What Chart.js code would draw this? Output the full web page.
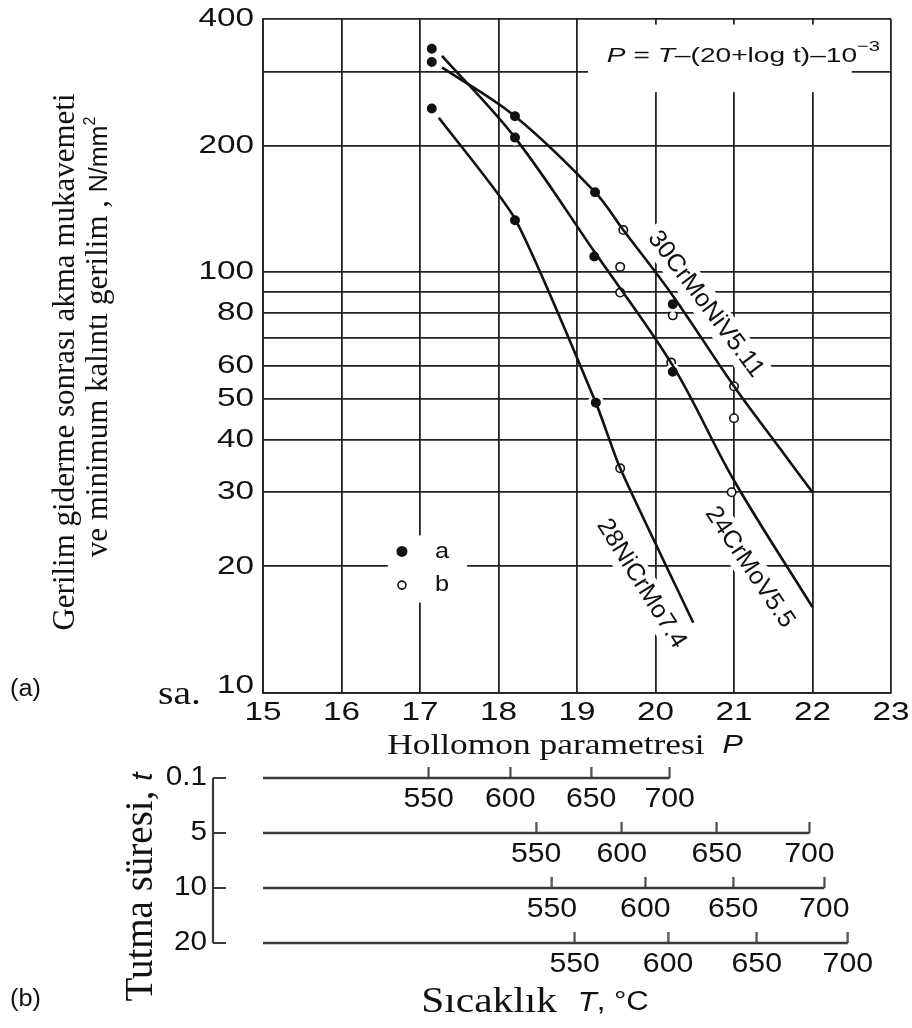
<!DOCTYPE html>
<html>
<head>
<meta charset="utf-8">
<script src="https://cdn.jsdelivr.net/npm/chart.js@4.4.1/dist/chart.umd.min.js"></script>
<style>
  body { margin: 0; background: #fff; }
  #page { position: relative; width: 912px; height: 1028px; }
  .box { position: absolute; left: 0; width: 912px; }
</style>
</head>
<body>
<div id="page">
  <div class="box" style="top:0;height:770px"><canvas id="chart-a"></canvas></div>
  <div class="box" style="top:740px;height:288px"><canvas id="chart-b"></canvas></div>
</div>
<script>
// (a) Hollomon parametresi - gerilim, log eksen
var pTicks = [15, 16, 17, 18, 19, 20, 21, 22, 23];
var stressLabels = [10, 20, 30, 40, 50, 60, 80, 100, 200, 400];
var stressGrid = [10, 20, 30, 40, 50, 60, 70, 80, 90, 100, 200, 300, 400];

// egriler [P, N/mm2]
var curve30CrMoNiV = [[17.28, 307], [18.21, 235], [19.23, 155], [19.59, 126], [20.22, 88], [21.0, 53.6], [21.6, 37.8], [22.0, 30]];
var curve24CrMoV = [[17.28, 327], [18.21, 209], [19.22, 112], [20.22, 60], [21.0, 32], [22.0, 16]];
var curve28NiCrMo = [[17.24, 233], [18.21, 134], [19.24, 49], [19.55, 34.2], [20.48, 14.7]];

// olcum noktalari: a (dolu), b (bos)
var pointsA = [[17.15, 340], [17.15, 316], [17.15, 245], [18.21, 235], [18.21, 209], [18.21, 133],
  [19.23, 155], [19.22, 109], [19.24, 49], [20.22, 84], [20.22, 58]];
var pointsB = [[19.59, 126], [19.55, 103], [19.55, 89.5], [20.22, 79], [20.2, 61],
  [21.0, 53.6], [21.0, 45], [19.55, 34.2], [20.97, 30]];

// (b) tutma suresi (sa.) ve sicaklik olcekleri, P cinsinden konumlar
var holdTimes = ["0.1", "5", "10", "20"];
var tempLabels = [550, 600, 650, 700];
var tempP01 = [17.11, 18.15, 19.18, 20.18];
var tempP5 = [18.48, 19.57, 20.78, 21.96];
var tempP10 = [18.68, 19.87, 20.99, 22.15];
var tempP20 = [18.97, 20.16, 21.29, 22.45];
var tempRows = [tempP01, tempP5, tempP10, tempP20];

var SANS = '"Liberation Sans", Arial, sans-serif';
var SERIF = '"Liberation Serif", "Times New Roman", serif';
var INK = "#111";
var GRID = "#222";

function xy(arr) {
  return arr.map(function (d) { return { x: d[0], y: d[1] }; });
}

// metin parcalarini (farkli fontlar) tek satirda, yatay olcekle cizer
function drawRuns(ctx, runs, x, y, o) {
  o = o || {};
  var sx = o.sx || 1;
  ctx.save();
  ctx.translate(x, y);
  if (o.rot) ctx.rotate(o.rot);
  ctx.scale(sx, 1);
  ctx.textBaseline = o.baseline || "middle";
  ctx.textAlign = "left";
  ctx.fillStyle = INK;
  var w = 0;
  runs.forEach(function (r) { ctx.font = r[1]; w += ctx.measureText(r[0]).width; });
  var cx = o.align === "right" ? -w : o.align === "center" ? -w / 2 : 0;
  runs.forEach(function (r) {
    ctx.font = r[1];
    ctx.fillText(r[0], cx, r[2] || 0);
    cx += ctx.measureText(r[0]).width;
  });
  ctx.restore();
  return w * sx;
}

function textWidth(ctx, str, font) {
  ctx.save();
  ctx.font = font;
  var w = ctx.measureText(str).width;
  ctx.restore();
  return w;
}

var curveLabels = [
  { text: "30CrMoNiV5.11", p: 20.64, v: 84, angle: 53 },
  { text: "24CrMoV5.5", p: 21.2, v: 19.9, angle: 56 },
  { text: "28NiCrMo7.4", p: 19.82, v: 18.2, angle: 58 },
];
var LABEL_FONT = "25px " + SANS;

var annotationsA = {
  id: "annotationsA",
  beforeDatasetsDraw: function (chart) {
    var ctx = chart.ctx, x = chart.scales.x, y = chart.scales.y;
    ctx.save();
    ctx.fillStyle = "#fff";
    // denklem kutusu
    ctx.fillRect(x.getPixelForValue(19.14), y.getPixelForValue(388), x.getPixelForValue(22.5) - x.getPixelForValue(19.14), y.getPixelForValue(268) - y.getPixelForValue(388));
    // lejant kutusu
    ctx.fillRect(x.getPixelForValue(16.59), y.getPixelForValue(23.7), x.getPixelForValue(17.6) - x.getPixelForValue(16.59), y.getPixelForValue(16.4) - y.getPixelForValue(23.7));
    // egri etiketlerinin arka plani
    curveLabels.forEach(function (l) {
      var w = textWidth(ctx, l.text, LABEL_FONT);
      ctx.save();
      ctx.translate(x.getPixelForValue(l.p), y.getPixelForValue(l.v));
      ctx.rotate(l.angle * Math.PI / 180);
      ctx.fillRect(-w / 2 - 6, -15, w + 12, 30);
      ctx.restore();
    });
    ctx.restore();
  },
  afterDatasetsDraw: function (chart) {
    var ctx = chart.ctx, x = chart.scales.x, y = chart.scales.y, area = chart.chartArea;
    var tickFont = "26px " + SANS;

    stressLabels.forEach(function (v) {
      // en alttaki 10 biraz yukarida duruyor
      var dy = v === 10 ? -7 : 0;
      drawRuns(ctx, [[String(v), tickFont]], area.left - 9, y.getPixelForValue(v) + dy, { align: "right", sx: 1.28 });
    });
    pTicks.forEach(function (p) {
      drawRuns(ctx, [[String(p), tickFont]], x.getPixelForValue(p), area.bottom + 20, { align: "center", sx: 1.28 });
    });

    drawRuns(ctx, [["Hollomon parametresi  ", "30px " + SERIF], ["P", "italic 26px " + SANS]],
      565, area.bottom + 53, { align: "center", sx: 1.18 });
    drawRuns(ctx, [["(a)", "23px " + SANS]], 10, area.bottom - 3, { sx: 1.1 });
    drawRuns(ctx, [["sa.", "33px " + SERIF]], 201, area.bottom + 2, { align: "right", sx: 1.2 });

    // y ekseni basligi, iki satir
    drawRuns(ctx, [["Gerilim giderme sonrası akma mukavemeti", "31px " + SERIF]], 74, 362,
      { align: "center", rot: -Math.PI / 2, baseline: "alphabetic" });
    drawRuns(ctx, [["ve minimum kalıntı gerilim , ", "31px " + SERIF], ["N/mm", "25px " + SANS], ["2", "16px " + SANS, -12]],
      107, 337, { align: "center", rot: -Math.PI / 2, baseline: "alphabetic" });

    // denklem
    drawRuns(ctx, [["P", "italic 21px " + SANS], [" = ", "21px " + SANS], ["T", "italic 21px " + SANS],
      ["–(20+log t)–10", "21px " + SANS], ["−3", "15px " + SANS, -9]],
      x.getPixelForValue(19.38), y.getPixelForValue(327), { sx: 1.34 });

    curveLabels.forEach(function (l) {
      drawRuns(ctx, [[l.text, LABEL_FONT]], x.getPixelForValue(l.p), y.getPixelForValue(l.v),
        { align: "center", rot: l.angle * Math.PI / 180 });
    });

    // lejant
    var lx = x.getPixelForValue(16.77);
    var ya = y.getPixelForValue(21.7), yb = y.getPixelForValue(18.05);
    ctx.save();
    ctx.fillStyle = INK;
    ctx.beginPath(); ctx.arc(lx, ya, 5.5, 0, Math.PI * 2); ctx.fill();
    ctx.strokeStyle = INK; ctx.lineWidth = 1.6; ctx.fillStyle = "#fff";
    ctx.beginPath(); ctx.arc(lx, yb, 4, 0, Math.PI * 2); ctx.fill(); ctx.stroke();
    ctx.restore();
    drawRuns(ctx, [["a", "22px " + SANS]], lx + 33, ya, { sx: 1.15 });
    drawRuns(ctx, [["b", "22px " + SANS]], lx + 33, yb, { sx: 1.15 });
  },
};

function curveSet(arr, tension) {
  return {
    data: xy(arr),
    borderColor: INK,
    borderWidth: 2.6,
    pointRadius: 0,
    tension: tension,
    fill: false,
  };
}

new Chart(document.getElementById("chart-a"), {
  type: "line",
  data: {
    datasets: [
      curveSet(curve30CrMoNiV, 0.35),
      curveSet(curve24CrMoV, 0.35),
      curveSet(curve28NiCrMo, 0.2),
      {
        data: xy(pointsA),
        showLine: false,
        pointRadius: 6.5,
        pointBackgroundColor: INK,
        pointBorderColor: "#fff",
        pointBorderWidth: 3,
      },
      {
        data: xy(pointsB),
        showLine: false,
        pointRadius: 4.2,
        pointBackgroundColor: "#fff",
        pointBorderColor: INK,
        pointBorderWidth: 1.6,
      },
    ],
  },
  options: {
    responsive: true,
    maintainAspectRatio: false,
    animation: false,
    layout: { padding: { left: 263, right: 21, top: 19, bottom: 77 } },
    plugins: { legend: { display: false }, tooltip: { enabled: false } },
    scales: {
      x: {
        type: "linear",
        min: 15,
        max: 23,
        ticks: { display: false, stepSize: 1 },
        grid: { color: GRID, lineWidth: 1.8, drawTicks: false },
        border: { color: GRID, width: 1.8 },
      },
      y: {
        type: "logarithmic",
        min: 10,
        max: 400,
        afterBuildTicks: function (scale) {
          scale.ticks = stressGrid.map(function (v) { return { value: v }; });
        },
        ticks: { display: false },
        grid: { color: GRID, lineWidth: 1.8, drawTicks: false },
        border: { color: GRID, width: 1.8 },
      },
    },
  },
  plugins: [annotationsA],
});

// (b) sicaklik olcekleri
var ROW = "#3a3a3a";
var tickMark = document.createElement("canvas");
tickMark.width = 3;
tickMark.height = 22;
(function () {
  var c = tickMark.getContext("2d");
  c.fillStyle = ROW;
  c.fillRect(0.5, 0, 2, 11);
})();

var annotationsB = {
  id: "annotationsB",
  afterDatasetsDraw: function (chart) {
    var ctx = chart.ctx, x = chart.scales.x, y = chart.scales.y;
    var bx = 213;
    ctx.save();
    ctx.strokeStyle = ROW;
    ctx.lineWidth = 2.2;
    ctx.beginPath();
    ctx.moveTo(bx, y.getPixelForValue(0));
    ctx.lineTo(bx, y.getPixelForValue(holdTimes.length - 1));
    holdTimes.forEach(function (t, i) {
      var py = y.getPixelForValue(i);
      ctx.moveTo(bx, py);
      ctx.lineTo(bx + 13, py);
    });
    ctx.stroke();
    ctx.restore();

    holdTimes.forEach(function (t, i) {
      drawRuns(ctx, [[t, "27px " + SANS]], bx - 6, y.getPixelForValue(i), { align: "right", sx: 1.1 });
    });
    tempRows.forEach(function (row, i) {
      row.forEach(function (p, j) {
        drawRuns(ctx, [[String(tempLabels[j]), "27px " + SANS]], x.getPixelForValue(p), y.getPixelForValue(i) + 22,
          { align: "center", sx: 1.12 });
      });
    });

    drawRuns(ctx, [["(b)", "23px " + SANS]], 10, 260, { sx: 1.1 });
    drawRuns(ctx, [["Tutma süresi, ", "39px " + SERIF], ["t", "italic 30px " + SANS]], 152, 147,
      { align: "center", rot: -Math.PI / 2, baseline: "alphabetic" });
    drawRuns(ctx, [["Sıcaklık  ", "36px " + SERIF], ["T", "italic 27px " + SANS], [", °C", "27px " + SANS]],
      535, 263, { align: "center", sx: 1.15 });
  },
};

var rowSets = tempRows.map(function (row, i) {
  return {
    data: [{ x: 15, y: i }, { x: row[row.length - 1], y: i }],
    borderColor: ROW,
    borderWidth: 2.6,
    pointRadius: 0,
    clip: false,
  };
});
var tickSets = tempRows.map(function (row, i) {
  return {
    data: row.map(function (p) { return { x: p, y: i }; }),
    showLine: false,
    pointStyle: tickMark,
    pointRadius: 6,
    clip: false,
  };
});

new Chart(document.getElementById("chart-b"), {
  type: "line",
  data: { datasets: rowSets.concat(tickSets) },
  options: {
    responsive: true,
    maintainAspectRatio: false,
    animation: false,
    layout: { padding: { left: 263, right: 21, top: 38, bottom: 85 } },
    plugins: { legend: { display: false }, tooltip: { enabled: false } },
    scales: {
      x: { type: "linear", min: 15, max: 23, display: false },
      y: { type: "linear", min: 0, max: 3, reverse: true, display: false },
    },
  },
  plugins: [annotationsB],
});
</script>
</body>
</html>
